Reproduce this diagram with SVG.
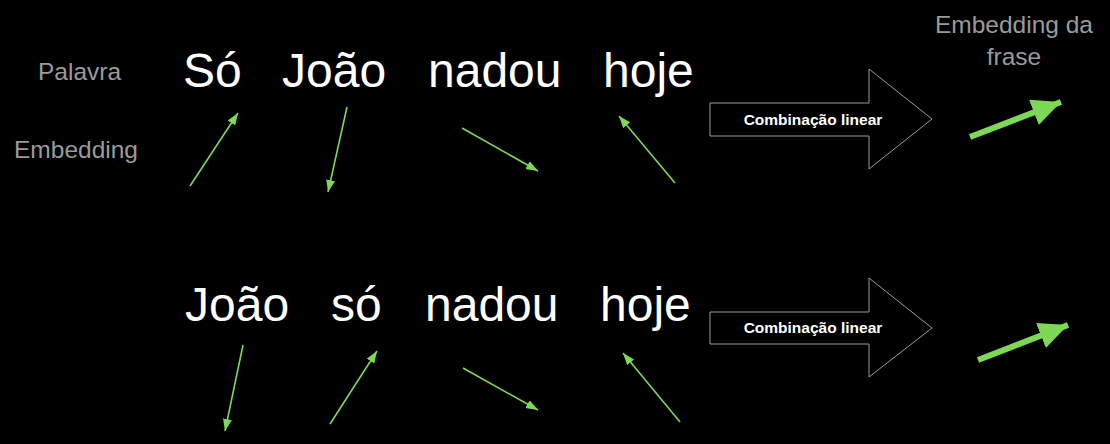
<svg xmlns="http://www.w3.org/2000/svg" width="1110" height="444" viewBox="0 0 1110 444">
<style>
.word{font-family:"Liberation Sans",Arial,sans-serif;font-size:48px;fill:#ffffff}
.label{font-family:"Liberation Sans",Arial,sans-serif;font-size:24.5px;fill:#9a9a9a}
.comb{font-family:"Liberation Sans",Arial,sans-serif;font-size:15.5px;font-weight:bold;fill:#ffffff;text-anchor:middle}
.vec{stroke:#7dd856;stroke-width:1.6;fill:none;marker-end:url(#ah)}
.big{stroke:#7dd856;stroke-width:6;fill:none;marker-end:url(#ahb)}
.block{fill:#000;stroke:#9a9a9a;stroke-width:1}
</style>
<defs>
<marker id="ah" markerUnits="userSpaceOnUse" markerWidth="13" markerHeight="10" refX="12" refY="4.5" orient="auto" viewBox="0 0 13 10">
<path d="M0,0 L12,4.5 L0,9 z" fill="#7dd856"/>
</marker>
<marker id="ahb" markerUnits="userSpaceOnUse" markerWidth="30" markerHeight="28" refX="29" refY="13.5" orient="auto" viewBox="0 0 30 28">
<path d="M0,0 L29,13.5 L0,27 z" fill="#7dd856"/>
</marker>
</defs>
<rect width="1110" height="444" fill="#000"/>
<g id="labels">
<text class="label" x="38" y="80">Palavra</text>
<text class="label" x="14" y="158">Embedding</text>
<text class="label" x="1014" y="33" text-anchor="middle">Embedding da</text>
<text class="label" x="1014" y="65" text-anchor="middle">frase</text>
</g>
<g id="row1-words">
<text class="word" x="183" y="87">Só</text>
<text class="word" x="282" y="87">João</text>
<text class="word" x="428" y="87">nadou</text>
<text class="word" x="603" y="87">hoje</text>
</g>
<g id="row2-words">
<text class="word" x="185" y="321">João</text>
<text class="word" x="331" y="321">só</text>
<text class="word" x="425" y="321">nadou</text>
<text class="word" x="600" y="321">hoje</text>
</g>
<g id="block1">
<path class="block" d="M710,103 L869,103 L869,69 L932,119 L869,169 L869,136 L710,136 Z"/>
<text class="comb" x="813" y="125">Combinação linear</text>
</g>
<g id="block2">
<path class="block" d="M710,312 L869,312 L869,278 L932,328 L869,377 L869,344 L710,344 Z"/>
<text class="comb" x="813" y="333">Combinação linear</text>
</g>
<g id="connectors">
<line class="vec" x1="190" y1="186" x2="238" y2="113"/>
<line class="vec" x1="347" y1="107" x2="328" y2="192"/>
<line class="vec" x1="462" y1="128" x2="538" y2="171"/>
<line class="vec" x1="675" y1="183" x2="619" y2="116"/>
<line class="vec" x1="243" y1="345" x2="225" y2="431"/>
<line class="vec" x1="330" y1="424" x2="377" y2="351"/>
<line class="vec" x1="463" y1="368" x2="538" y2="410"/>
<line class="vec" x1="680" y1="422" x2="623" y2="353"/>
<line class="big" x1="970" y1="137" x2="1061" y2="102"/>
<line class="big" x1="978" y1="360" x2="1068" y2="325"/>
</g>
</svg>
